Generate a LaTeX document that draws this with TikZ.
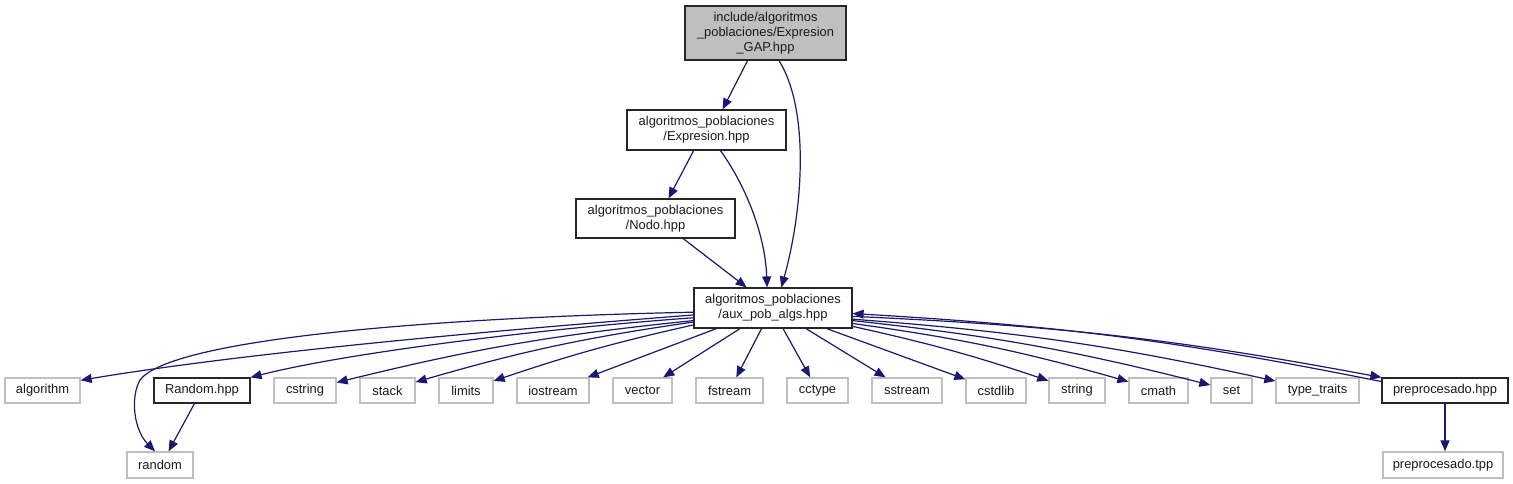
\documentclass[tikz,border=0pt]{standalone}
\usepackage{fontspec}
\setmainfont{Liberation Sans}
\usetikzlibrary{arrows.meta}
\definecolor{edgecol}{HTML}{191970}
\definecolor{graybd}{HTML}{BFBFBF}
\definecolor{topfill}{HTML}{BFBFBF}
\definecolor{txt}{HTML}{1A1A1A}
\begin{document}
\begin{tikzpicture}[x=1pt,y=1pt,
  box/.style={line width=1pt, inner sep=0pt, align=center,
    font=\fontsize{12.9}{15}\selectfont, text=txt},
  sysbox/.style={box, draw=graybd, line width=1.3pt, minimum height=25pt},
  locbox/.style={box, draw=black!85, line width=1.2pt},
  dep/.style={draw=edgecol, line width=1.2pt,
    -{Triangle[length=11pt,width=9pt]}}]
\useasboundingbox[fill=white] (0,0) rectangle (1513,-484);

% upper nodes
\node[locbox, fill=topfill, minimum width=161pt, minimum height=54pt] (top) at (765.5,-33)
  {include/algoritmos\\\_poblaciones/Expresion\\\_GAP.hpp};
\node[locbox, minimum width=159pt, minimum height=40pt] (expr) at (706.5,-130)
  {algoritmos\_poblaciones\\/Expresion.hpp};
\node[locbox, minimum width=159pt, minimum height=39pt] (nodo) at (655.5,-218.5)
  {algoritmos\_poblaciones\\/Nodo.hpp};
\node[locbox, minimum width=158pt, minimum height=40pt] (aux) at (773,-308)
  {algoritmos\_poblaciones\\/aux\_pob\_algs.hpp};

% row of includes
\node[sysbox, minimum width=75pt] (algorithm) at (42.5,-390.5) {algorithm};
\node[locbox, minimum width=96pt, minimum height=25pt] (Random) at (202,-390.5) {Random.hpp};
\node[sysbox, minimum width=62pt] (cstring) at (305,-390.5) {cstring};
\node[sysbox, minimum width=55pt] (stack) at (387.5,-390.5) {stack};
\node[sysbox, minimum width=54pt] (limits) at (466,-390.5) {limits};
\node[sysbox, minimum width=72pt] (iostream) at (553,-390.5) {iostream};
\node[sysbox, minimum width=59pt] (vector) at (642.5,-390.5) {vector};
\node[sysbox, minimum width=67pt] (fstream) at (729.5,-390.5) {fstream};
\node[sysbox, minimum width=61pt] (cctype) at (817.5,-390.5) {cctype};
\node[sysbox, minimum width=70pt] (sstream) at (907,-390.5) {sstream};
\node[sysbox, minimum width=60pt] (cstdlib) at (996,-390.5) {cstdlib};
\node[sysbox, minimum width=56pt] (string) at (1077,-390.5) {string};
\node[sysbox, minimum width=59pt] (cmath) at (1158.5,-390.5) {cmath};
\node[sysbox, minimum width=41pt] (set) at (1231.5,-390.5) {set};
\node[sysbox, minimum width=83pt] (typetraits) at (1317.5,-390.5) {type\_traits};
\node[locbox, minimum width=126pt, minimum height=25pt] (prephpp) at (1445,-390.5) {preprocesado.hpp};

% bottom row
\node[sysbox, minimum width=66pt, minimum height=26pt] (random) at (160,-465) {random};
\node[sysbox, minimum width=120pt, minimum height=26pt] (preptpp) at (1443,-465) {preprocesado.tpp};

% upper edges
\draw[dep] (top.237) -- (expr.52);
\draw[dep] (top.296.6) .. controls (810,-110) and (803,-210) .. (aux.68);
\draw[dep] (expr.238) -- (nodo.57);
\draw[dep] (expr.304) .. controls (742,-180) and (765,-230) .. (aux.106);
\draw[dep] (nodo.324) -- (aux.142);

% left edges
\draw[dep] (aux.183.6) .. controls (420,-318) and (170,-340) .. (140,-380)
  .. controls (130,-398) and (134,-430) .. (random.110);
\draw[dep] (aux.185.8) .. controls (500,-330) and (250,-352) .. (algorithm.15);
\draw[dep] (aux.187.9) .. controls (550,-328) and (350,-352) .. (Random.north east);
\draw[dep] (aux.189.3) to[bend right=4] (cstring);
\draw[dep] (aux.190.8) to[bend right=4] (stack);
\draw[dep] (aux.192.1) to[bend right=3] (limits);

% bottom edges
\draw[dep] (aux.200.7) -- (iostream);
\draw[dep] (aux.212.8) -- (vector);
\draw[dep] (aux.241.2) -- (fstream);
\draw[dep] (aux.296.6) -- (cctype);
\draw[dep] (aux.328) -- (sstream);
\draw[dep] (aux.339.7) -- (cstdlib);

% right edges
\draw[dep] (aux.347.2) to[bend left=3] (string);
\draw[dep] (aux.349.2) to[bend left=4] (cmath);
\draw[dep] (aux.351.4) to[bend left=4] (set);
\draw[dep] (aux.352.8) to[bend left=4] (typetraits);
\draw[dep] (aux.354.2) to[bend left=4] (prephpp.north west);
\draw[dep] (prephpp.172) to[bend right=4] (aux.356.4);

% lower edges
\draw[dep] (Random.240.8) -- (random.58.4);
\draw[dep] (prephpp.south) -- (prephpp.south |- preptpp.north);
\end{tikzpicture}
\end{document}
